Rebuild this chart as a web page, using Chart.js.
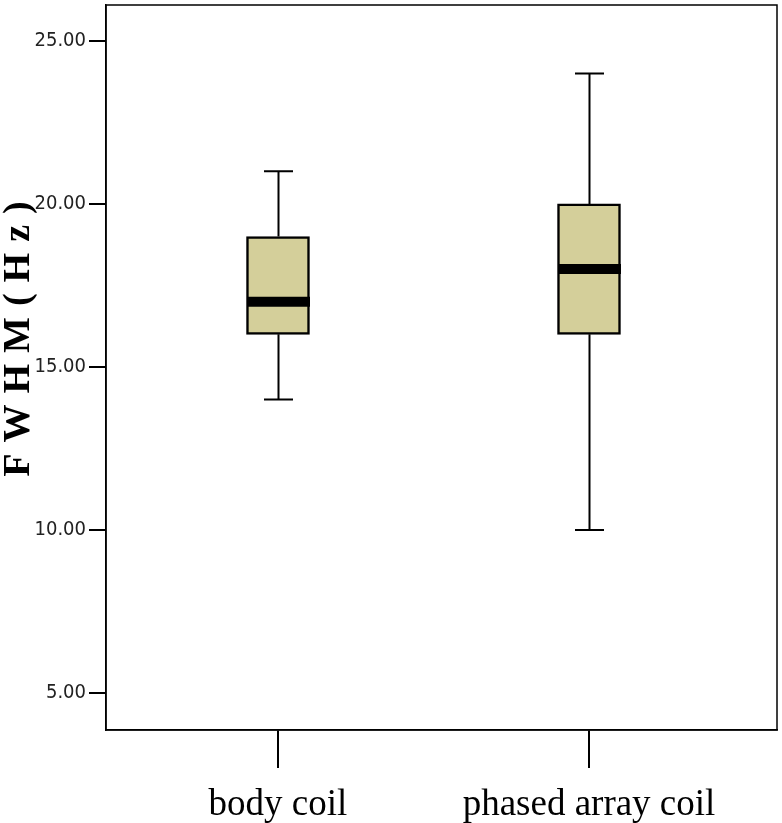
<!DOCTYPE html>
<html><head><meta charset="utf-8">
<script src="https://cdn.jsdelivr.net/npm/chart.js@4"></script>
<style>html,body{margin:0;padding:0;background:#fff}canvas{display:block}</style>
</head><body>
<canvas id="c" width="782" height="823"></canvas>
<script>
// ---- data ----
const categories = ['body coil', 'phased array coil'];
const positions = [1, 2];
const whiskerLow = [14, 10];
const q1 = [16, 16];
const median = [17, 18];
const q3 = [19, 20];
const whiskerHigh = [21, 24];
const yTicks = [5, 10, 15, 20, 25];
const yLabel = 'FWHM(Hz)';

const BOX_FILL = '#D4CF9A';
const LINE = '#000';

const boxPlugin = {
  id: 'boxExtras',
  beforeLayout(chart) {
    const s = chart.scales.y;
    if (s && !s._patched) {
      const orig = s.drawTitle;
      s.drawTitle = function () {
        const c = this.ctx;
        c.save();
        c.translate(0, -34);
        c.letterSpacing = '11px';
        orig.apply(this, arguments);
        c.restore();
      };
      s._patched = true;
    }
    const sx = chart.scales.x;
    if (sx && !sx._patched) {
      sx._computeLabelArea = function () { return undefined; };
      sx._patched = true;
    }
  },
  afterDatasetsDraw(chart) {
    const {ctx, chartArea, scales: {x, y}} = chart;
    const capHalf = 14.5, boxHalf = 31.5;
    ctx.save();
    ctx.strokeStyle = LINE;
    ctx.lineCap = 'butt';
    positions.forEach((p, i) => {
      const px = Math.round(x.getPixelForValue(p)) + 0.5;
      ctx.lineWidth = 2;
      ctx.beginPath();
      ctx.moveTo(px, y.getPixelForValue(q3[i]));
      ctx.lineTo(px, y.getPixelForValue(whiskerHigh[i]));
      ctx.moveTo(px, y.getPixelForValue(q1[i]));
      ctx.lineTo(px, y.getPixelForValue(whiskerLow[i]));
      ctx.moveTo(px - capHalf, y.getPixelForValue(whiskerHigh[i]));
      ctx.lineTo(px + capHalf, y.getPixelForValue(whiskerHigh[i]));
      ctx.moveTo(px - capHalf, y.getPixelForValue(whiskerLow[i]));
      ctx.lineTo(px + capHalf, y.getPixelForValue(whiskerLow[i]));
      ctx.stroke();
      ctx.lineWidth = 10;
      ctx.beginPath();
      ctx.moveTo(px - boxHalf, y.getPixelForValue(median[i]));
      ctx.lineTo(px + boxHalf, y.getPixelForValue(median[i]));
      ctx.stroke();
    });
    ctx.lineWidth = 1.5;
    ctx.strokeRect(chartArea.left, chartArea.top, chartArea.right - chartArea.left, chartArea.bottom - chartArea.top);
    ctx.restore();
  }
};

new Chart(document.getElementById('c'), {
  type: 'bar',
  data: {
    datasets: [{
      data: positions.map((p, i) => ({x: p, y: [q1[i], q3[i]]})),
      backgroundColor: BOX_FILL,
      borderColor: LINE,
      borderWidth: 2.5,
      borderSkipped: false,
      barThickness: 63
    }]
  },
  options: {
    responsive: false,
    animation: false,
    devicePixelRatio: 1,
    layout: {padding: {top: 5, right: 5, left: 0, bottom: 0}},
    plugins: {legend: {display: false}, tooltip: {enabled: false}},
    scales: {
      x: {
        type: 'linear',
        offset: false,
        min: 0.447,
        max: 2.6045,
        afterBuildTicks: s => { s.ticks = positions.map(v => ({value: v})); },
        afterFit: s => { s.height = 93; s.paddingLeft = 0; s.paddingRight = 0; },
        ticks: {
          callback: v => { const k = positions.indexOf(v); return k >= 0 ? categories[k] : ''; },
          font: {family: '"Liberation Serif", "Times New Roman", serif', size: 37},
          color: '#000',
          padding: 15,
          maxRotation: 0,
          autoSkip: false
        },
        grid: {display: true, offset: false, drawOnChartArea: false, drawTicks: true, tickLength: 38, color: LINE, lineWidth: 2},
        border: {display: true, color: LINE, width: 1.5}
      },
      y: {
        type: 'linear',
        min: 3.865,
        max: 26.1,
        afterBuildTicks: s => { s.ticks = yTicks.map(v => ({value: v})); },
        afterFit: s => { s.width = 106; s.paddingTop = 0; s.paddingBottom = 0; },
        ticks: {
          callback: v => Number(v).toFixed(2),
          font: {family: '"Liberation Sans Narrow", "DejaVu Sans Condensed", "Liberation Sans", sans-serif', size: 20},
          color: '#222',
          padding: 3
        },
        grid: {display: true, drawOnChartArea: false, drawTicks: true, tickLength: 17, color: LINE, lineWidth: 2},
        border: {display: true, color: LINE, width: 1.5},
        title: {
          display: true,
          text: yLabel,
          font: {family: '"Liberation Serif", "Times New Roman", serif', size: 38, weight: 'bold', lineHeight: 1},
          color: '#000',
          padding: {top: 0, bottom: 0}
        }
      }
    }
  },
  plugins: [boxPlugin]
});
</script>
</body></html>
